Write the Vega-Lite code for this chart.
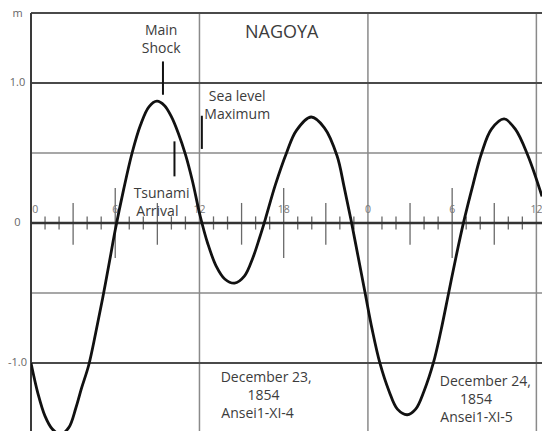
{
  "$schema": "https://vega.github.io/schema/vega-lite/v6.json",
  "width": 511,
  "height": 418,
  "autosize": "none",
  "padding": {"left": 31, "top": 13, "right": 0, "bottom": 0},
  "background": "white",
  "view": {"stroke": null},
  "config": {"font": "Open Sans", "axisY": {"grid": false, "ticks": false, "domain": false, "title": null}},
  "datasets": {
    "curve": [
      {"h": 0, "v": -1.0}, {"h": 0.5, "v": -1.22}, {"h": 1.0, "v": -1.38}, {"h": 1.5, "v": -1.47},
      {"h": 2.1, "v": -1.51}, {"h": 2.7, "v": -1.46}, {"h": 3.2, "v": -1.32}, {"h": 3.6, "v": -1.18},
      {"h": 4.1, "v": -1.02}, {"h": 4.6, "v": -0.79}, {"h": 5.1, "v": -0.54}, {"h": 5.6, "v": -0.27}, {"h": 6.0, "v": -0.05}, {"h": 6.6, "v": 0.24},
      {"h": 7.2, "v": 0.5}, {"h": 7.8, "v": 0.7}, {"h": 8.4, "v": 0.83}, {"h": 8.97, "v": 0.87},
      {"h": 9.5, "v": 0.84}, {"h": 10.0, "v": 0.76}, {"h": 10.5, "v": 0.64}, {"h": 11.0, "v": 0.49},
      {"h": 11.5, "v": 0.3}, {"h": 12.05, "v": 0.05}, {"h": 12.6, "v": -0.15}, {"h": 13.2, "v": -0.31}, {"h": 13.8, "v": -0.4},
      {"h": 14.5, "v": -0.43}, {"h": 15.2, "v": -0.38}, {"h": 15.8, "v": -0.25}, {"h": 16.3, "v": -0.1}, {"h": 16.7, "v": 0.03},
      {"h": 17.4, "v": 0.27}, {"h": 18.2, "v": 0.5}, {"h": 18.9, "v": 0.66}, {"h": 19.96, "v": 0.757},
      {"h": 20.9, "v": 0.68}, {"h": 21.8, "v": 0.48}, {"h": 22.3, "v": 0.26}, {"h": 22.8, "v": 0.02}, {"h": 23.3, "v": -0.24}, {"h": 23.8, "v": -0.5},
      {"h": 24.3, "v": -0.76}, {"h": 24.85, "v": -1.0}, {"h": 25.5, "v": -1.2}, {"h": 26.1, "v": -1.33}, {"h": 26.8, "v": -1.37},
      {"h": 27.4, "v": -1.33}, {"h": 28.0, "v": -1.2}, {"h": 28.66, "v": -1.0}, {"h": 29.2, "v": -0.77}, {"h": 29.75, "v": -0.5},
      {"h": 30.3, "v": -0.23}, {"h": 30.85, "v": 0.02}, {"h": 31.5, "v": 0.28}, {"h": 32.1, "v": 0.5}, {"h": 32.8, "v": 0.67},
      {"h": 33.7, "v": 0.743}, {"h": 34.5, "v": 0.67}, {"h": 35.4, "v": 0.48}, {"h": 36.4, "v": 0.19}
    ],
    "hmajor": [{"v": 1.5}, {"v": 1.0}, {"v": -1.0}],
    "hminor": [{"v": 0.5}, {"v": -0.5}],
    "vgrid": [{"h": 12}, {"h": 24}, {"h": 36}],
    "ticks_s": [{"h": 1}, {"h": 2}, {"h": 4}, {"h": 5}, {"h": 7}, {"h": 8}, {"h": 10}, {"h": 11}, {"h": 13}, {"h": 14}, {"h": 16}, {"h": 17}, {"h": 19}, {"h": 20}, {"h": 22}, {"h": 23}, {"h": 25}, {"h": 26}, {"h": 28}, {"h": 29}, {"h": 31}, {"h": 32}, {"h": 34}, {"h": 35}],
    "ticks_m": [{"h": 3}, {"h": 9}, {"h": 15}, {"h": 21}, {"h": 27}, {"h": 33}],
    "ticks_l": [{"h": 6}, {"h": 18}, {"h": 30}],
    "hlabels": [{"h": 0.3, "t": "0"}, {"h": 6, "t": "6"}, {"h": 12, "t": "12"}, {"h": 18, "t": "18"}, {"h": 24, "t": "0"}, {"h": 30, "t": "6"}, {"h": 36, "t": "12"}],
    "markers": [{"h": 9.4, "v1": 1.154, "v2": 0.916}, {"h": 10.22, "v1": 0.583, "v2": 0.333}, {"h": 12.17, "v1": 0.766, "v2": 0.529}],
    "notes": [
      {"h": 9.27, "v": 1.369, "t": "Main"},
      {"h": 9.27, "v": 1.243, "t": "Shock"},
      {"h": 14.69, "v": 0.9, "t": "Sea level"},
      {"h": 14.69, "v": 0.773, "t": "Maximum"},
      {"h": 9.3, "v": 0.209, "t": "Tsunami"},
      {"h": 9.0, "v": 0.076, "t": "Arrival"},
      {"h": 16.75, "v": -1.107, "t": "December 23,"},
      {"h": 16.56, "v": -1.238, "t": "1854"},
      {"h": 16.14, "v": -1.367, "t": "Ansei1-XI-4"},
      {"h": 32.36, "v": -1.138, "t": "December 24,"},
      {"h": 31.7, "v": -1.265, "t": "1854"},
      {"h": 31.74, "v": -1.395, "t": "Ansei1-XI-5"}
    ],
    "title": [{"h": 17.86, "v": 1.357, "t": "NAGOYA"}]
  },
  "layer": [
    {
      "data": {"name": "hminor"},
      "mark": {"type": "rule", "color": "#8a8a8a", "strokeWidth": 1.5},
      "encoding": {
        "y": {"field": "v", "type": "quantitative", "scale": {"domain": [-1.486, 1.5], "nice": false, "zero": false},
          "axis": {"values": [1.5, 1, 0, -1], "labelExpr": "datum.value == 1.5 ? 'm' : datum.value == 1 ? '1.0' : datum.value == 0 ? '0' : '-1.0'", "ticks": false, "domain": false, "grid": false, "title": null, "labelAlign": "center", "labelPadding": 14, "labelFontSize": 11, "labelColor": "#666666", "labelOverlap": false, "labelFlush": false, "labelBound": false, "labelFont": "Open Sans"}}
      }
    },
    {
      "data": {"name": "vgrid"},
      "mark": {"type": "rule", "color": "#8a8a8a", "strokeWidth": 1.5},
      "encoding": {
        "x": {"field": "h", "type": "quantitative", "scale": {"domain": [0, 36.4], "nice": false, "zero": false}, "axis": null}
      }
    },
    {
      "data": {"name": "hmajor"},
      "mark": {"type": "rule", "color": "#4a4a4a", "strokeWidth": 2},
      "encoding": {
        "y": {"field": "v", "type": "quantitative"}
      }
    },
    {
      "data": {"values": [{"h": 0}]},
      "mark": {"type": "rule", "color": "#3a3a3a", "strokeWidth": 2},
      "encoding": {
        "x": {"field": "h", "type": "quantitative", "axis": null}
      }
    },
    {
      "data": {"name": "ticks_s"},
      "mark": {"type": "rule", "color": "#6a6a6a", "strokeWidth": 1.3},
      "encoding": {
        "x": {"field": "h", "type": "quantitative", "axis": null},
        "y": {"datum": 0.047, "type": "quantitative"},
        "y2": {"datum": -0.047}
      }
    },
    {
      "data": {"name": "ticks_m"},
      "mark": {"type": "rule", "color": "#6a6a6a", "strokeWidth": 1.3},
      "encoding": {
        "x": {"field": "h", "type": "quantitative", "axis": null},
        "y": {"datum": 0.143, "type": "quantitative"},
        "y2": {"datum": -0.155}
      }
    },
    {
      "data": {"name": "ticks_l"},
      "mark": {"type": "rule", "color": "#6a6a6a", "strokeWidth": 1.3},
      "encoding": {
        "x": {"field": "h", "type": "quantitative", "axis": null},
        "y": {"datum": 0.25, "type": "quantitative"},
        "y2": {"datum": -0.25}
      }
    },
    {
      "data": {"values": [{"v": 0}]},
      "mark": {"type": "rule", "color": "#333333", "strokeWidth": 2.5},
      "encoding": {
        "y": {"field": "v", "type": "quantitative"}
      }
    },
    {
      "data": {"name": "hlabels"},
      "mark": {"type": "text", "fontSize": 10.5, "color": "#777777", "align": "center", "baseline": "middle"},
      "encoding": {
        "x": {"field": "h", "type": "quantitative", "axis": null},
        "y": {"datum": 0.095, "type": "quantitative"},
        "text": {"field": "t"}
      }
    },
    {
      "data": {"name": "curve"},
      "mark": {"type": "line", "color": "#111111", "strokeWidth": 2.8, "interpolate": "catmull-rom", "clip": true},
      "encoding": {
        "x": {"field": "h", "type": "quantitative", "axis": null},
        "y": {"field": "v", "type": "quantitative"}
      }
    },
    {
      "data": {"name": "markers"},
      "mark": {"type": "rule", "color": "#111111", "strokeWidth": 2},
      "encoding": {
        "x": {"field": "h", "type": "quantitative", "axis": null},
        "y": {"field": "v1", "type": "quantitative"},
        "y2": {"field": "v2"}
      }
    },
    {
      "data": {"name": "notes"},
      "mark": {"type": "text", "fontSize": 14, "color": "#3c3c3c", "align": "center", "baseline": "middle"},
      "encoding": {
        "x": {"field": "h", "type": "quantitative", "axis": null},
        "y": {"field": "v", "type": "quantitative"},
        "text": {"field": "t"}
      }
    },
    {
      "data": {"name": "title"},
      "mark": {"type": "text", "fontSize": 18, "color": "#3c3c3c", "align": "center", "baseline": "middle"},
      "encoding": {
        "x": {"field": "h", "type": "quantitative", "axis": null},
        "y": {"field": "v", "type": "quantitative"},
        "text": {"field": "t"}
      }
    }
  ]
}
